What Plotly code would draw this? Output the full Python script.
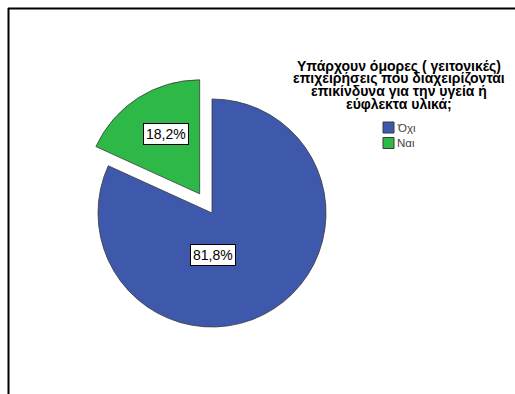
import plotly.graph_objects as go

# Data
categories = ["Όχι", "Ναι"]
percentages = [81.8, 18.2]
colors = ["#3E58AC", "#2EB848"]
pulls = [0, 0.2]
title_lines = [
    "Υπάρχουν όμορες ( γειτονικές)",
    "επιχειρήσεις που διαχειρίζονται",
    "επικίνδυνα για την υγεία ή",
    "εύφλεκτα υλικά;",
]

W, H = 515, 394
FONT = "Liberation Sans, Arial, sans-serif"

# Pie geometry in pixels (centre and radius); the domain is sized so that
# plotly's radius = min(w, h) / (2 + 2 * max pull) comes out as R.
CX, CY, R = 212, 213, 114
half = R * (1 + max(pulls))


def px(x):
    return x / W


def py(y):
    return 1 - y / H


fig = go.Figure(
    go.Pie(
        labels=categories,
        values=percentages,
        sort=False,
        direction="clockwise",
        rotation=0,
        pull=pulls,
        marker=dict(colors=colors, line=dict(color="#3a3a3a", width=0.8)),
        textinfo="none",
        hovertemplate="%{label}: %{value:.1f}%<extra></extra>",
        domain=dict(x=[px(CX - half), px(CX + half)], y=[py(CY + half), py(CY - half)]),
        showlegend=False,
    )
)

annotations = []

# Percentage labels in white boxes
label_pos = [(212.5, 255), (165.5, 134)]
for v, (lx, ly) in zip(percentages, label_pos):
    annotations.append(
        dict(
            x=px(lx), y=py(ly), xref="paper", yref="paper",
            text=f"{v:.1f}%".replace(".", ","),
            showarrow=False,
            font=dict(family=FONT, size=14, color="black"),
            bgcolor="white", bordercolor="black", borderwidth=1, borderpad=2,
            xanchor="center", yanchor="middle",
        )
    )

# Legend title, one line at a time (tight line spacing)
for i, line in enumerate(title_lines):
    annotations.append(
        dict(
            x=px(399), y=py(65.5 + 12.9 * i), xref="paper", yref="paper",
            text=f"<b>{line}</b>", showarrow=False,
            font=dict(family=FONT, size=14, color="black"),
            xanchor="center", yanchor="middle",
        )
    )

shapes = []
# Legend swatches and entries
for i, (cat, col) in enumerate(zip(categories, colors)):
    yc = 127.5 + 15.5 * i
    shapes.append(
        dict(
            type="rect", xref="paper", yref="paper",
            x0=px(383), x1=px(394), y0=py(yc + 5.5), y1=py(yc - 5.5),
            fillcolor=col, line=dict(color="#3a3a3a", width=1),
        )
    )
    annotations.append(
        dict(
            x=px(395), y=py(yc), xref="paper", yref="paper",
            text=cat, showarrow=False,
            font=dict(family=FONT, size=11.5, color="#444444"),
            xanchor="left", yanchor="middle",
        )
    )

# Outer frame: top and left edges
shapes.append(dict(type="line", xref="paper", yref="paper",
                   x0=px(8), x1=1, y0=py(8.5), y1=py(8.5),
                   line=dict(color="black", width=2)))
shapes.append(dict(type="line", xref="paper", yref="paper",
                   x0=px(8.5), x1=px(8.5), y0=py(8), y1=0,
                   line=dict(color="black", width=2)))

fig.update_layout(
    width=W, height=H,
    margin=dict(l=0, r=0, t=0, b=0),
    paper_bgcolor="white", plot_bgcolor="white",
    annotations=annotations, shapes=shapes,
    showlegend=False,
)

fig.write_html("out.html")
